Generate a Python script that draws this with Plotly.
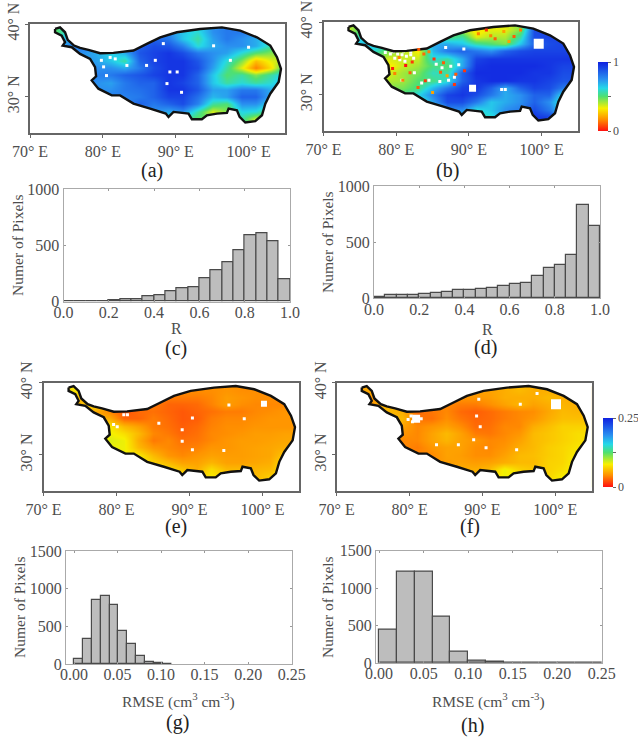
import plotly.graph_objects as go

W, H = 638, 740
SERIF = "Liberation Serif"
INK = "#4d4d4d"
DARK = "#222222"

outline_lon = [73.44,74.12,74.81,75.18,76.05,76.87,78.02,79.62,81.45,84.2,86.03,87.87,90.16,93.36,96.34,98.86,101.15,102.98,103.9,104.45,104.13,102.98,102.3,101.84,100.92,99.55,98.77,98.4,97.26,97.03,95.65,94.28,93.59,92.22,91.76,89.7,89.01,88.64,86.49,84.2,82.37,81.22,79.39,78.47,79.07,78.93,78.25,76.87,75.73,74.49,74.81,74.35,73.44]
outline_lat = [39.32,39.54,38.86,37.81,37.03,36.71,36.44,35.98,36.03,36.35,37.26,38.17,38.86,39.32,39.54,39.09,38.17,37.03,35.43,33.84,32.01,30.41,29.04,27.44,26.62,26.44,27.21,28.13,28.36,27.76,27.67,27.44,26.89,26.89,27.67,27.9,27.21,27.67,28.36,29.04,30.18,30.18,31.1,32.24,32.79,34.06,35.21,35.89,36.8,37.03,37.49,38.4,38.86]

grid_lon = [73,75,77,79,81,83,85,87,89,91,93,95,97,99,101,103,105]
grid_lat = [39,38,37,36,35,34,33,32,31,30,29,28,27,26]

r_a = [
 [.45,.60,.80,.80,.80,.80,.80,.80,.75,.65,.60,.75,.80,.80,.75,.70,.70],
 [.45,.70,.80,.80,.80,.80,.80,.85,.80,.65,.55,.72,.80,.75,.70,.60,.60],
 [.70,.75,.80,.80,.80,.80,.85,.90,.88,.78,.60,.70,.75,.75,.70,.55,.50],
 [.80,.75,.75,.70,.62,.70,.88,.92,.95,.90,.80,.75,.72,.60,.50,.45,.45],
 [.80,.80,.75,.72,.65,.55,.85,.92,.95,.95,.88,.75,.60,.45,.25,.35,.40],
 [.80,.80,.80,.75,.75,.70,.80,.90,.95,.95,.90,.72,.55,.35,.15,.30,.55],
 [.80,.80,.80,.78,.80,.85,.88,.92,.95,.95,.85,.65,.50,.55,.45,.55,.65],
 [.80,.80,.80,.75,.72,.80,.85,.85,.95,.92,.85,.65,.55,.60,.55,.60,.70],
 [.78,.78,.78,.75,.75,.80,.82,.85,.95,.95,.88,.72,.72,.80,.80,.70,.70],
 [.78,.78,.78,.75,.80,.78,.80,.85,.92,.92,.82,.68,.72,.85,.85,.70,.65],
 [.78,.78,.78,.75,.75,.75,.85,.80,.85,.90,.78,.55,.50,.75,.75,.62,.62],
 [.75,.75,.75,.75,.75,.70,.75,.75,.70,.75,.55,.36,.45,.62,.60,.48,.50],
 [.70,.70,.70,.70,.70,.70,.70,.65,.60,.55,.48,.50,.60,.55,.38,.36,.42],
 [.70,.70,.70,.70,.70,.70,.70,.65,.60,.55,.48,.50,.60,.55,.40,.38,.42],
]
r_b = [
 [.35,.50,.60,.60,.60,.60,.70,.60,.40,.30,.35,.35,.45,.90,.92,.92,.92],
 [.35,.60,.65,.65,.65,.65,.70,.50,.55,.35,.40,.40,.55,.90,.92,.92,.92],
 [.60,.65,.65,.65,.60,.60,.70,.70,.65,.55,.50,.45,.65,.85,.90,.92,.92],
 [.60,.60,.60,.45,.40,.32,.68,.80,.85,.80,.75,.85,.90,.92,.92,.92,.92],
 [.50,.50,.45,.36,.38,.38,.60,.55,.70,.92,.95,.95,.95,.95,.95,.95,.95],
 [.45,.45,.40,.32,.38,.42,.52,.50,.70,.95,.97,.97,.97,.97,.95,.92,.92],
 [.45,.45,.40,.36,.42,.46,.58,.55,.85,.97,.97,.97,.97,.95,.95,.90,.90],
 [.45,.45,.45,.40,.42,.50,.52,.60,.85,.95,.97,.97,.95,.95,.92,.88,.88],
 [.50,.50,.50,.45,.46,.52,.68,.80,.92,.95,.85,.70,.85,.92,.90,.80,.80],
 [.55,.55,.55,.50,.52,.62,.78,.92,.95,.90,.80,.70,.75,.85,.85,.60,.60],
 [.55,.55,.55,.55,.50,.52,.72,.90,.90,.80,.65,.70,.75,.85,.75,.55,.55],
 [.50,.50,.50,.50,.50,.50,.50,.75,.75,.60,.65,.75,.80,.90,.80,.60,.60],
 [.50,.50,.50,.50,.50,.50,.50,.60,.65,.55,.60,.75,.85,.95,.92,.75,.75],
 [.50,.50,.50,.50,.50,.50,.50,.60,.65,.55,.60,.75,.85,.95,.92,.75,.75],
]
rmse_e = [
 [.075,.080,.050,.050,.045,.045,.045,.045,.042,.042,.042,.045,.042,.042,.042,.042,.042],
 [.075,.060,.060,.050,.045,.045,.040,.036,.036,.036,.040,.048,.045,.042,.042,.040,.040],
 [.050,.060,.075,.060,.050,.042,.036,.028,.028,.030,.038,.048,.042,.040,.040,.040,.040],
 [.050,.050,.055,.040,.022,.030,.032,.028,.024,.028,.032,.036,.036,.040,.042,.045,.045],
 [.050,.050,.055,.055,.028,.028,.036,.030,.024,.026,.036,.040,.040,.042,.045,.045,.045],
 [.050,.050,.055,.080,.060,.050,.036,.032,.026,.030,.038,.042,.042,.045,.045,.045,.045],
 [.055,.055,.060,.085,.075,.060,.040,.035,.028,.032,.040,.042,.045,.048,.048,.050,.050],
 [.055,.055,.060,.090,.085,.055,.035,.040,.032,.034,.040,.045,.048,.048,.050,.052,.052],
 [.060,.060,.060,.085,.085,.060,.045,.040,.036,.038,.045,.045,.048,.050,.052,.055,.055],
 [.060,.060,.060,.080,.085,.080,.060,.045,.040,.045,.050,.048,.048,.050,.052,.065,.065],
 [.060,.060,.060,.080,.080,.085,.070,.060,.050,.050,.058,.050,.050,.052,.055,.075,.075],
 [.060,.060,.060,.080,.080,.085,.085,.075,.065,.055,.075,.060,.060,.058,.060,.075,.075],
 [.060,.060,.060,.080,.080,.085,.085,.080,.075,.065,.080,.070,.065,.060,.068,.080,.080],
 [.060,.060,.060,.080,.080,.085,.085,.080,.075,.065,.080,.070,.065,.060,.068,.080,.080],
]
rmse_f = [
 [.050,.055,.050,.050,.050,.050,.050,.050,.050,.050,.055,.060,.055,.055,.055,.055,.055],
 [.050,.045,.060,.050,.050,.050,.045,.045,.045,.048,.055,.055,.055,.060,.055,.055,.055],
 [.040,.050,.060,.050,.050,.045,.040,.036,.036,.042,.050,.058,.050,.055,.058,.055,.055],
 [.050,.050,.060,.055,.030,.034,.040,.030,.026,.030,.036,.040,.042,.052,.060,.058,.058],
 [.055,.055,.060,.060,.034,.032,.042,.034,.028,.030,.036,.040,.045,.055,.062,.062,.062],
 [.055,.055,.060,.050,.040,.045,.050,.042,.030,.032,.040,.040,.055,.062,.070,.070,.070],
 [.050,.050,.055,.045,.040,.050,.060,.050,.036,.034,.040,.045,.060,.065,.070,.075,.075],
 [.050,.050,.050,.040,.040,.050,.058,.050,.045,.040,.042,.050,.060,.065,.070,.075,.075],
 [.050,.050,.050,.040,.036,.045,.050,.050,.042,.040,.045,.055,.060,.068,.072,.078,.078],
 [.050,.050,.050,.045,.040,.040,.050,.048,.042,.042,.050,.060,.062,.068,.072,.082,.082],
 [.050,.050,.050,.050,.050,.045,.048,.050,.048,.050,.055,.060,.060,.070,.072,.085,.085],
 [.050,.050,.050,.050,.050,.050,.055,.055,.055,.060,.085,.070,.065,.070,.075,.085,.085],
 [.050,.050,.050,.050,.050,.055,.060,.060,.062,.072,.085,.078,.070,.072,.082,.088,.088],
 [.050,.050,.050,.050,.050,.055,.060,.060,.062,.072,.085,.078,.070,.072,.082,.088,.088],
]

holes_a_lon = [81.0,81.7,80.1,86.0,87.2,88.8,90.8,89.2,90.2,97.5,100.0,95.2,88.3,79.8,80.5,83.3]
holes_a_lat = [35.4,35.2,34.1,34.3,35.0,31.8,30.6,33.4,33.4,35.0,36.8,37.0,37.3,35.0,32.9,34.3]
holes_b_lon = [94.5,95,80.2,80.8,81.4,82.0,79.8,80.5,81.2,82.4,85.5,86.3,87.5,88.6,89.3,84.5,83.5,86,87.2,88,82.5,80.8,84.4,78.5,79.2,79.6,81.0,82.0,86.8,85.2]
holes_b_lat = [30.7,30.7,35.6,35.5,35.3,35.5,35.0,34.8,34.6,35.0,34.2,33.7,33.9,34.1,36.3,32.0,31.6,31.8,32.0,32.4,33,32,37.0,35.8,35.6,35.9,36.0,35.9,36.5,37.1]
holes_e_lon = [81.0,79.6,85.8,89.0,90.4,100.2,94.7,95.4,97.5,80.1,81.5,89.0,90.4,100.0]
holes_e_lat = [35.55,34.2,34.4,31.9,30.7,37.2,30.6,36.9,35.0,33.9,35.55,33.5,35.1,37.0]
holes_f_lon = [80.8,79.8,81.2,89.7,88.8,90.5,94.7,95.2,89.2,86.7,83.7,89.5,97.5,80.2,80.4,81.6]
holes_f_lat = [35.1,34.9,35.3,33.9,32.1,31.0,30.7,37.0,35.4,31.4,31.4,37.7,38.5,35.4,34.6,35.0]
big_b_lon = [99.6, 90.5]
big_b_lat = [37.0, 30.9]
big_b_size = [10, 7]
big_e_lon = [100.2]
big_e_lat = [37.1]
big_e_size = [6]
big_f_lon = [100.1, 80.9]
big_f_lat = [37.0, 35.0]
big_f_size = [10, 8]
no_lon, no_lat, no_size = [], [], []

specks_b_lon = [79.5,80.4,81.3,82.2,83.1,83.8,84.5,85.2,86.1,87.0,88.2,89.4,91.3,92.4,93.6,94.8,96.2,97.1,79.8,81.9,84.0,86.5,88.0,80.9,83.0,85.0,93.0,95.5]
specks_b_lat = [33.6,35.1,34.0,34.5,36.2,35.6,35.9,34.9,33.1,32.6,32.8,33.3,38.4,38.9,37.7,38.7,38.0,38.9,32.9,33.0,31.9,34.4,31.4,32.0,31.0,30.3,38.1,37.3]
specks_b_val = [.02,.15,.0,.05,.1,.12,.15,.05,.1,.2,.1,.05,.15,.05,.1,.2,.1,.15,.15,.1,.05,.1,.05,.15,.1,.2,.15,.2]

r_edges_start = [round(i*0.05, 2) for i in range(20)]
hist_c = [0,3,2,8,12,25,22,45,55,95,115,125,205,280,355,455,590,610,540,200]
hist_d = [15,25,28,32,35,45,55,70,70,85,90,110,130,140,195,270,300,390,835,645]
g_edges_start = [0.0,0.0102,0.0204,0.0306,0.0408,0.051,0.0612,0.0714,0.0816,0.0918,0.102]
hist_g = [60,330,850,900,780,440,260,100,20,10,5]
h_edges_start = [0.0,0.02,0.04,0.06,0.08,0.10,0.12,0.14,0.16,0.18,0.20,0.22,0.24]
hist_h = [440,1220,1220,620,150,30,15,5,8,5,5,2,8]

rainbow = [[0,"#ff1010"],[.17,"#ff9000"],[.33,"#f8f000"],[.5,"#50e070"],[.62,"#25d8e8"],[.75,"#2a90f0"],[1,"#1020e0"]]

fig = go.Figure()
layout = {}
n = [0]

def new_axes(px, py, xrange, yrange):
    n[0] += 1
    k = "" if n[0] == 1 else str(n[0])
    layout["xaxis" + k] = dict(domain=[px[0]/W, px[1]/W], range=xrange, anchor="y" + k, automargin=False)
    layout["yaxis" + k] = dict(domain=[1-py[1]/H, 1-py[0]/H], range=yrange, anchor="x" + k, automargin=False)
    return "x" + k, "y" + k, "xaxis" + k, "yaxis" + k

def map_panel(px, py, z, zmax, holes_lon, holes_lat, big_lon, big_lat, big_size, bar=None):
    xa, ya, xk, yk = new_axes(px, py, [70, 105], [25, 40])
    hm = dict(x=grid_lon, y=grid_lat, z=z, zmin=0, zmax=zmax, colorscale=rainbow, zsmooth="best", xaxis=xa, yaxis=ya, hoverinfo="skip")
    if bar:
        hm.update(showscale=True, colorbar=bar)
    else:
        hm.update(showscale=False)
    fig.add_trace(go.Heatmap(**hm))
    fig.add_trace(go.Scatter(x=holes_lon, y=holes_lat, mode="markers", xaxis=xa, yaxis=ya, marker=dict(color="white", size=3, symbol="square", opacity=1), showlegend=False))
    fig.add_trace(go.Scatter(x=big_lon, y=big_lat, mode="markers", xaxis=xa, yaxis=ya, marker=dict(color="white", size=big_size, symbol="square", opacity=1, line=dict(width=0)), showlegend=False))
    mask_x = [70,105,105,70,70] + outline_lon[::-1] + [outline_lon[-1],70]
    mask_y = [40,40,25,25,40] + outline_lat[::-1] + [outline_lat[-1],40]
    fig.add_trace(go.Scatter(x=mask_x, y=mask_y, mode="lines", line=dict(width=0, color="white"), fill="toself", fillcolor="white", xaxis=xa, yaxis=ya, showlegend=False, hoverinfo="skip"))
    fig.add_trace(go.Scatter(x=outline_lon+[outline_lon[0]], y=outline_lat+[outline_lat[0]], mode="lines", line=dict(color="#111111", width=2.4), xaxis=xa, yaxis=ya, showlegend=False, hoverinfo="skip"))
    common = dict(showgrid=False, zeroline=False, showline=True, linecolor="#666666", linewidth=1.5, mirror=True, ticks="outside", ticklen=3, tickcolor="#666666", tickfont=dict(family=SERIF, size=16, color=INK))
    layout[xk].update(common, tickvals=[70,80,90,100], ticktext=["70° E","80° E","90° E","100° E"], tickangle=0)
    layout[yk].update(common, tickvals=[30,40], ticktext=["30° N","40° N"], tickangle=-90)
    return xa, ya

def hist_panel(px, py, starts, width, values, xrange, yrange, xticks, xtext, yticks):
    xa, ya, xk, yk = new_axes(px, py, xrange, yrange)
    fig.add_trace(go.Bar(x=[s+width/2 for s in starts], y=values, width=width, marker=dict(color="#bdbdbd", line=dict(color="#4a4a4a", width=1.2)), xaxis=xa, yaxis=ya, showlegend=False))
    common = dict(showgrid=False, zeroline=False, showline=True, linecolor="#aaaaaa", linewidth=1, mirror="ticks", ticks="inside", ticklen=2, tickcolor="#999999", tickfont=dict(family=SERIF, size=16, color=INK))
    layout[xk].update(common, tickvals=xticks, ticktext=xtext, tickangle=0, ticklabelstandoff=-4)
    layout[yk].update(common, tickvals=yticks, ticktext=[str(v) for v in yticks])

def label(x, y, text, size=16, color=INK, angle=0):
    return dict(xref="paper", yref="paper", x=x/W, y=1-y/H, text=text, showarrow=False, xanchor="center", yanchor="middle", textangle=angle, font=dict(family=SERIF, size=size, color=color))

def cbar(top, bottom, left, zmax, text):
    return dict(x=left/W, xanchor="left", xpad=0, y=1-bottom/H, yanchor="bottom", ypad=0, len=bottom-top, lenmode="pixels", thickness=10, outlinewidth=0, tickvals=[0, zmax/2, zmax], ticktext=["0","",text], ticks="outside", ticklen=3, tickcolor="#666666", tickfont=dict(family=SERIF, size=12, color=INK))

map_panel((30,285),(24,133), r_a, 1, holes_a_lon, holes_a_lat, no_lon, no_lat, no_size)
xb, yb = map_panel((323.5,578),(22,131), r_b, 1, holes_b_lon, holes_b_lat, big_b_lon, big_b_lat, big_b_size, bar=cbar(62,131,598,1,"1"))
map_panel((43.5,299),(382.7,491), rmse_e, .25, holes_e_lon, holes_e_lat, big_e_lon, big_e_lat, big_e_size)
map_panel((336.7,591.7),(382.7,491), rmse_f, .25, holes_f_lon, holes_f_lat, big_f_lon, big_f_lat, big_f_size, bar=cbar(418,487,603,.25,"0.25"))
fig.add_trace(go.Scatter(x=specks_b_lon, y=specks_b_lat, mode="markers", xaxis=xb, yaxis=yb, showlegend=False, marker=dict(size=3, symbol="square", color=specks_b_val, cmin=0, cmax=1, colorscale=rainbow, showscale=False)))

rt = [0,.2,.4,.6,.8,1]
rl = ["0.0","0.2","0.4","0.6","0.8","1.0"]
et = [0,.05,.10,.15,.20,.25]
el = ["0.00","0.05","0.10","0.15","0.20","0.25"]
hist_panel((63.5,290),(189.3,301.7), r_edges_start, .05, hist_c, [0,1], [0,1000], rt, rl, [0,500,1000])
hist_panel((374,600),(186,298.3), r_edges_start, .05, hist_d, [0,1], [0,1000], rt, rl, [0,500,1000])
hist_panel((66,291.7),(551,664), g_edges_start, .0102, hist_g, [-.0092,.25], [0,1500], et, el, [0,500,1000,1500])
hist_panel((376,601.7),(550.7,663), h_edges_start, .02, hist_h, [-.0035,.25], [0,1500], et, el, [0,500,1000,1500])

ann = [
 label(152,171,"(a)",20,DARK), label(447,171,"(b)",20,DARK), label(176,348,"(c)",20,DARK), label(485,347,"(d)",20,DARK),
 label(176,526,"(e)",20,DARK), label(470,526,"(f)",20,DARK), label(177,722,"(g)",20,DARK), label(472,725,"(h)",20,DARK),
 label(176,328,"R",16), label(487,329,"R",16),
 label(17,245,"Numer of Pixels",15.5,INK,-90), label(327,242,"Numer of Pixels",15.5,INK,-90),
 label(19,607,"Numer of Pixels",15.5,INK,-90), label(327,607,"Numer of Pixels",15.5,INK,-90),
 label(178,700,"RMSE (cm<sup>3</sup> cm<sup>-3</sup>)",15.5), label(488,700,"RMSE (cm<sup>3</sup> cm<sup>-3</sup>)",15.5),
]
fig.update_layout(width=W, height=H, margin=dict(l=0,r=0,t=0,b=0,autoexpand=False), paper_bgcolor="white", plot_bgcolor="white", bargap=0, showlegend=False, annotations=ann, **layout)
fig.write_html("out.html", config={"displayModeBar": False}, post_script="document.body.style.margin='0';document.body.style.overflow='hidden';")
